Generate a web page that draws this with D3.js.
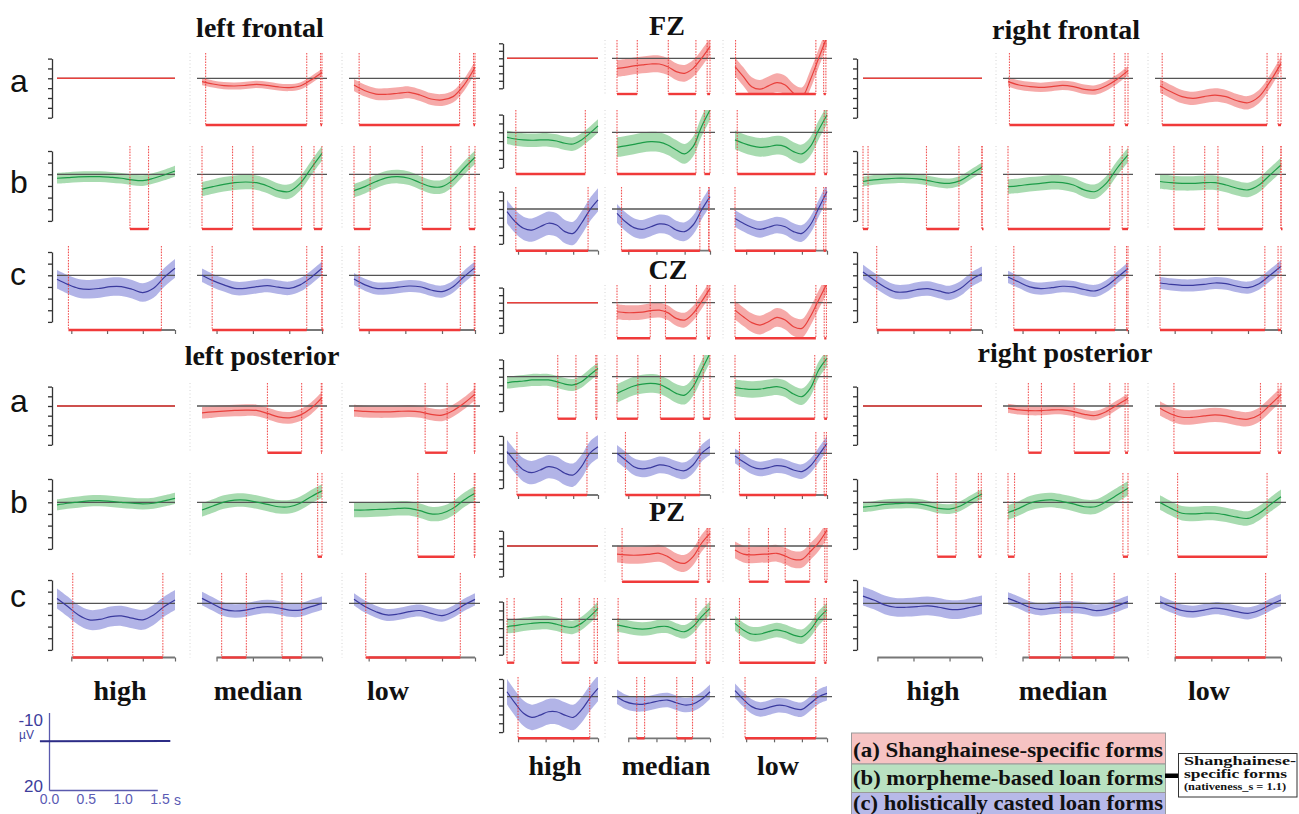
<!DOCTYPE html>
<html>
<head>
<meta charset="utf-8">
<script src="https://cdn.jsdelivr.net/npm/d3@7"></script>
<style>
  body { margin: 0; background: #fff; }
  svg { display: block; }
</style>
</head>
<body>
<svg id="chart" width="1299" height="814"></svg>
<script>
// ---------------------------------------------------------------------------
// GAM difference smooths (µV, negative up) for three form types (a, b, c)
// at three nativeness levels (high, median, low), per scalp region.
// Each region lists 9 panels: a-high, a-median, a-low, b-high, ... c-low.
// ---------------------------------------------------------------------------
const times = [-0.2, -0.05, 0.1, 0.25, 0.4, 0.55, 0.7, 0.85, 1.0, 1.15, 1.3, 1.45];
const levels = ["high", "median", "low"];
const forms = ["a", "b", "c"];
const flat = [0, 0, 0, 0, 0, 0, 0, 0, 0, 0, 0, 0];

// left frontal
const leftFrontalFit = [
  flat,
  [1.7, 2.9, 3.7, 3.9, 3.6, 3.1, 3.6, 4.4, 4.7, 3.9, 0.8, -3.0],
  [3.4, 6.3, 8.0, 8.1, 7.6, 7.1, 8.5, 10.5, 11.0, 9.3, 3.4, -5.6],
  [1.7, 1.4, 1.1, 1.0, 1.0, 1.3, 1.7, 2.4, 2.7, 1.7, 0.3, -1.4],
  [6.4, 5.3, 4.3, 3.6, 3.3, 3.6, 5.0, 7.0, 7.4, 3.9, -2.6, -9.0],
  [7.0, 5.3, 3.1, 1.4, 1.0, 1.7, 3.6, 5.3, 5.3, 2.4, -2.6, -7.3],
  [1.7, 3.9, 5.6, 6.0, 5.6, 4.9, 4.9, 6.0, 7.4, 5.6, 0.9, -3.0],
  [0.0, 2.3, 4.1, 5.6, 5.6, 4.9, 4.4, 5.1, 5.6, 4.1, 0.9, -3.0],
  [1.6, 4.1, 5.6, 5.6, 5.1, 4.6, 4.9, 6.3, 7.0, 4.9, 0.6, -3.3]
];
const leftFrontalCI = [0, 1.8, 3.0, 2.3, 3.1, 2.9, 4.0, 2.9, 2.6];
const leftFrontalSig = [
  [], [[-0.15, 1.24], [1.43, 1.45]], [[-0.13, 1.24], [1.43, 1.45]],
  [[0.82, 1.08]], [[-0.2, 0.22], [0.5, 1.17], [1.34, 1.45]], [[-0.2, 0.02], [0.73, 1.12], [1.37, 1.45]],
  [[-0.04, 1.26]], [[-0.06, 1.24], [1.45, 1.45]], [[-0.13, 1.25], [1.44, 1.45]]
];

// left posterior
const leftPosteriorFit = [
  flat,
  [3.5, 3.0, 2.6, 2.3, 2.1, 2.3, 3.8, 5.6, 6.1, 4.7, 1.2, -4.3],
  [2.4, 2.8, 3.0, 3.0, 2.8, 2.6, 3.0, 4.3, 4.7, 2.4, -1.4, -6.1],
  [1.1, 0.4, -0.1, -0.6, -0.7, -0.4, 0.0, 0.4, 0.7, 0.4, -0.6, -1.7],
  [3.3, 1.6, -0.1, -0.9, -0.9, -0.1, 0.9, 1.9, 1.9, 0.4, -2.4, -4.9],
  [3.3, 3.3, 3.1, 2.9, 2.6, 2.6, 3.6, 5.0, 4.7, 2.6, -1.0, -3.9],
  [-2.1, 1.4, 5.0, 7.1, 6.9, 5.7, 5.4, 6.4, 7.1, 5.0, 1.4, -1.4],
  [-2.1, 0.3, 2.6, 3.3, 2.9, 1.9, 1.4, 1.9, 2.9, 2.9, 1.4, 0.0],
  [-1.7, 1.4, 3.6, 5.0, 4.6, 3.6, 3.1, 4.3, 5.3, 3.6, 0.7, -1.7]
];
const leftPosteriorCI = [0, 3.0, 3.1, 2.4, 2.9, 3.1, 4.3, 2.9, 2.6];
const leftPosteriorSig = [
  [], [[0.7, 1.17], [1.44, 1.45]], [[0.77, 1.07], [1.44, 1.45]],
  [], [[1.39, 1.45]], [[0.67, 1.17], [1.44, 1.45]],
  [[0.02, 1.28]], [[0.07, 0.41], [0.9, 1.17]], [[-0.04, 1.25]]
];

// FZ
const fzFit = [
  flat,
  [6.7, 6.0, 5.1, 4.4, 3.8, 3.8, 5.6, 8.9, 10.0, 6.7, 0.0, -7.8],
  [5.6, 12.2, 18.9, 20.6, 18.4, 16.2, 17.8, 23.3, 25.6, 14.4, 0.0, -14.4],
  [2.8, 3.8, 4.3, 4.5, 4.3, 4.3, 4.9, 6.2, 6.6, 4.3, 0.6, -3.6],
  [8.5, 7.7, 6.8, 5.8, 5.3, 5.6, 7.2, 10.0, 12.2, 8.1, -3.2, -12.6],
  [4.3, 6.2, 7.7, 8.5, 8.1, 7.3, 8.1, 10.9, 12.2, 8.1, -1.3, -9.8],
  [1.5, 7.3, 11.1, 12.1, 10.2, 8.2, 9.2, 13.0, 14.0, 8.2, 0.6, -5.2],
  [2.5, 7.3, 10.7, 11.7, 10.2, 8.6, 9.2, 12.1, 13.0, 9.2, 0.6, -7.1],
  [5.4, 8.2, 10.5, 11.7, 10.5, 9.2, 10.2, 13.0, 14.0, 9.2, -0.4, -10.0]
];
const fzCI = [0, 5.6, 6.2, 3.8, 5.6, 5.3, 6.7, 5.4, 4.8];
const fzSig = [
  [], [[-0.2, 0.16], [0.71, 1.2], [1.4, 1.45]], [[-0.19, 1.25], [1.39, 1.43]],
  [[-0.04, 1.22]], [[-0.2, 1.2], [1.35, 1.45]], [[-0.16, 1.24], [1.4, 1.45]],
  [[-0.04, 1.27]], [[-0.12, 1.27], [1.43, 1.43]], [[-0.2, 1.25], [1.39, 1.43]]
];

// CZ
const czFit = [
  flat,
  [6.0, 6.6, 6.6, 6.2, 5.3, 4.9, 6.6, 10.4, 11.5, 7.1, -0.7, -9.5],
  [4.9, 9.3, 13.2, 14.8, 12.6, 9.7, 11.5, 15.9, 17.0, 9.3, -1.8, -12.8],
  [3.5, 2.9, 2.5, 1.9, 1.9, 1.9, 2.9, 4.3, 4.8, 2.9, -1.0, -4.8],
  [9.7, 7.4, 5.4, 4.3, 3.9, 4.5, 6.8, 9.7, 10.7, 5.8, -3.9, -13.6],
  [6.4, 7.0, 7.4, 7.2, 6.4, 5.8, 7.0, 10.1, 11.6, 6.8, -3.9, -10.7],
  [-1.0, 4.8, 9.6, 11.1, 9.6, 7.7, 8.6, 11.5, 12.5, 7.7, 0.0, -3.8],
  [0.0, 3.8, 7.7, 9.0, 8.2, 6.7, 7.3, 9.2, 10.0, 6.7, 0.0, -3.8],
  [1.5, 4.8, 7.7, 9.0, 8.2, 7.1, 7.7, 9.6, 10.5, 7.3, 1.0, -5.7]
];
const czCI = [0, 4.9, 6.2, 3.5, 5.4, 4.8, 6.7, 4.8, 4.2];
const czSig = [
  [], [[-0.2, 0.39], [0.66, 1.21], [1.4, 1.45]], [[-0.2, 1.25], [1.4, 1.44]],
  [[0.72, 1.05], [1.41, 1.43]], [[-0.2, 0.17], [0.57, 1.17], [1.33, 1.45]], [[-0.2, 1.23], [1.4, 1.45]],
  [[-0.02, 1.25]], [[-0.05, 1.27]], [[-0.12, 1.25], [1.4, 1.44]]
];

// PZ
const pzFit = [
  flat,
  [5.3, 5.9, 6.1, 5.9, 5.3, 4.8, 7.0, 10.3, 11.4, 7.0, -1.8, -8.3],
  [2.6, 5.3, 5.9, 5.5, 5.3, 4.8, 6.6, 8.8, 8.8, 3.7, -2.2, -10.5],
  [4.1, 3.6, 2.8, 2.3, 1.9, 1.9, 2.8, 4.1, 4.5, 2.3, -1.5, -6.2],
  [3.2, 4.1, 5.1, 5.5, 5.1, 4.1, 4.1, 6.0, 7.0, 4.1, -1.5, -6.2],
  [2.3, 6.0, 8.3, 8.3, 7.0, 6.0, 7.0, 8.9, 9.8, 6.0, -0.6, -5.3],
  [-2.8, 3.8, 9.4, 11.7, 10.4, 8.5, 8.5, 10.4, 11.7, 7.5, 0.9, -4.7],
  [0.0, 2.8, 4.1, 4.3, 3.4, 2.3, 1.9, 3.4, 4.7, 4.1, 1.5, -2.8],
  [-3.4, 1.5, 5.6, 7.2, 6.2, 4.9, 5.1, 6.6, 7.2, 3.8, 0.0, -1.9]
];
const pzCI = [0, 5.6, 5.5, 3.8, 3.8, 4.1, 7.2, 4.1, 4.1];
const pzSig = [
  [], [[-0.11, 1.25], [1.4, 1.45]], [[0.05, 0.4], [0.7, 1.14], [1.41, 1.45]],
  [[-0.2, -0.07], [0.79, 1.11], [1.38, 1.44]], [[-0.18, 1.2], [1.38, 1.45]], [[-0.12, 1.24], [1.4, 1.44]],
  [[0.0, 1.3]], [[0.15, 0.29], [0.86, 1.14]], [[-0.02, 1.25]]
];

// right frontal
const rightFrontalFit = [
  flat,
  [1.7, 3.4, 4.2, 4.6, 4.2, 3.6, 4.2, 5.6, 5.9, 3.9, 0.5, -3.9],
  [3.9, 6.8, 9.3, 10.2, 9.3, 8.5, 9.3, 11.4, 12.4, 9.3, 1.7, -7.6],
  [3.1, 2.4, 2.0, 1.7, 1.7, 2.0, 2.7, 3.6, 3.9, 2.7, -0.1, -3.0],
  [5.3, 4.9, 4.3, 3.9, 3.4, 3.6, 4.6, 6.7, 7.4, 3.9, -2.6, -8.3],
  [3.1, 3.6, 3.9, 3.9, 3.6, 3.6, 4.6, 6.0, 6.7, 4.6, 0.3, -4.0],
  [-1.4, 1.9, 5.0, 7.1, 7.1, 6.1, 5.7, 6.7, 7.6, 5.7, 1.9, -0.7],
  [0.7, 2.9, 5.0, 5.7, 5.3, 4.7, 5.0, 6.1, 6.7, 4.7, 1.0, -2.9],
  [3.3, 3.9, 4.3, 4.3, 3.9, 3.3, 3.6, 4.7, 5.3, 3.6, 0.0, -3.9]
];
const rightFrontalCI = [0, 2.4, 3.4, 2.1, 3.1, 3.1, 3.1, 2.6, 2.6];
const rightFrontalSig = [
  [], [[-0.18, 1.26], [1.41, 1.45]], [[-0.17, 1.26], [1.41, 1.45]],
  [[-0.2, -0.13], [0.68, 1.13], [1.45, 1.45]], [[-0.2, 1.2], [1.37, 1.45]], [[-0.01, 0.41], [0.59, 1.2], [1.45, 1.45]],
  [[-0.01, 1.3]], [[-0.12, 1.27], [1.43, 1.45]], [[-0.2, 1.23], [1.41, 1.45]]
];

// right posterior
const rightPosteriorFit = [
  flat,
  [1.2, 2.0, 2.4, 2.4, 2.0, 2.0, 2.9, 4.3, 4.9, 2.9, -0.5, -3.9],
  [1.2, 4.1, 5.8, 5.8, 5.1, 4.6, 5.1, 6.3, 6.8, 4.6, -0.5, -6.0],
  [2.1, 1.6, 0.9, 0.6, 0.4, 0.6, 1.4, 2.6, 2.9, 1.6, -1.0, -3.6],
  [4.4, 2.6, 0.4, -0.7, -1.0, -0.3, 0.7, 1.9, 1.9, -0.3, -3.1, -6.0],
  [0.1, 2.6, 4.7, 5.0, 4.7, 4.7, 5.4, 6.4, 6.9, 4.7, 1.1, -2.4],
  [-3.1, -1.4, 0.7, 1.7, 1.7, 1.4, 1.1, 1.7, 2.6, 2.6, 1.7, 0.7],
  [-2.1, -0.3, 1.7, 2.6, 2.1, 1.7, 1.7, 2.1, 3.1, 2.6, 1.1, -0.7],
  [-0.7, 1.4, 3.1, 3.6, 2.9, 2.1, 2.6, 3.6, 4.3, 3.1, 0.7, -1.4]
];
const rightPosteriorCI = [0, 2.4, 3.7, 2.1, 3.1, 3.1, 4.0, 2.6, 2.6];
const rightPosteriorSig = [
  [], [[0.08, 0.26], [0.71, 1.2], [1.41, 1.45]], [[-0.01, 1.17], [1.41, 1.45]],
  [[0.83, 1.09], [1.4, 1.44]], [[-0.2, -0.11], [1.38, 1.45]], [[0.04, 1.26]],
  [], [[0.09, 0.52], [0.68, 1.26]], [[0.01, 1.24]]
];

const formLabels = [
  "(a) Shanghainese-specific forms",
  "(b) morpheme-based loan forms",
  "(c) holistically casted loan forms"
];
const yTicks = [-10, -5, 0, 5, 10, 15, 20];
const xTicks = [0, 0.5, 1.0, 1.45];
const scaleTicks = [0.0, 0.5, 1.0, 1.5];

// ---------------------------------------------------------------------------
// layout
// ---------------------------------------------------------------------------
const colsLeft = [[57, 175], [202, 322], [354, 475]];
const colsCenter = [[507, 598], [617, 710], [735, 827]];
const colsRight = [[863, 982], [1008, 1128], [1160, 1281]];
// rows: [zero-line y, px per µV, top of marker lines, bottom (significance) line]
const rowsFrontal = [[78.3, 1.97, 53, 125], [174.3, 2.33, 146, 229], [275.3, 2.33, 246, 330]];
const rowsPosterior = [[406, 1.94, 383, 452.7], [502.3, 2.33, 473, 556.7], [603.3, 2.33, 573, 657.5]];
const rowsFZ = [[58.3, 1.5, 40, 94], [132.3, 1.77, 110, 174], [209, 1.74, 187, 250.7]];
const rowsCZ = [[302.7, 1.51, 285, 338.3], [376.7, 1.72, 355, 418.7], [453.3, 1.74, 432, 495]];
const rowsPZ = [[546, 1.52, 528, 581.7], [619.3, 1.77, 598, 662.7], [696.7, 1.77, 677, 738.3]];

const panelsets = [
  { fit: leftFrontalFit, ci: leftFrontalCI, sig: leftFrontalSig, cols: colsLeft, rows: rowsFrontal, axisX: 52 },
  { fit: leftPosteriorFit, ci: leftPosteriorCI, sig: leftPosteriorSig, cols: colsLeft, rows: rowsPosterior, axisX: 52 },
  { fit: fzFit, ci: fzCI, sig: fzSig, cols: colsCenter, rows: rowsFZ, axisX: 503 },
  { fit: czFit, ci: czCI, sig: czSig, cols: colsCenter, rows: rowsCZ, axisX: 503 },
  { fit: pzFit, ci: pzCI, sig: pzSig, cols: colsCenter, rows: rowsPZ, axisX: 503 },
  { fit: rightFrontalFit, ci: rightFrontalCI, sig: rightFrontalSig, cols: colsRight, rows: rowsFrontal, axisX: 857 },
  { fit: rightPosteriorFit, ci: rightPosteriorCI, sig: rightPosteriorSig, cols: colsRight, rows: rowsPosterior, axisX: 857 }
];

const colors = {
  a: { line: "#e8403c", band: "#f5a5a4" },
  b: { line: "#1c9c48", band: "#a3d9ac" },
  c: { line: "#3a3a9e", band: "#aeb0e6" }
};
const sigColor = "#f03a3a";
const serif = "'Liberation Serif', 'Times New Roman', serif";
const sans = "'Liberation Sans', Arial, sans-serif";

const svg = d3.select("#chart");
const defs = svg.append("defs");
const plot = svg.append("g").attr("class", "panels");
let clipCount = 0;

function drawPanel(fit, ci, sig, col, row, form, li, axisX) {
  const [x0, x1] = col;
  const [zero, k, top, bot] = row;
  const x = d3.scaleLinear().domain([-0.2, 1.45]).range([x0, x1]);
  const y = d3.scaleLinear().domain([-10, 20]).range([zero - 10 * k, zero + 20 * k]);
  const g = plot.append("g");
  const id = "clip" + (clipCount++);
  defs.append("clipPath").attr("id", id)
    .append("rect").attr("x", x0 - 3).attr("y", top).attr("width", x1 - x0 + 6).attr("height", bot - top);

  const pts = times.map((t, i) => ({ t, v: fit[i] }));
  const curve = d3.curveCatmullRom.alpha(0.5);
  const pal = colors[form];

  // faint remnant of the panel's own y axis
  if (li > 0) {
    g.append("line")
      .attr("x1", x0 - 12).attr("x2", x0 - 12)
      .attr("y1", top).attr("y2", bot)
      .attr("stroke", "#d4d4d4").attr("stroke-width", 1).attr("stroke-dasharray", "1 2.5");
  }

  // confidence band
  if (ci > 0) {
    g.append("g").attr("clip-path", `url(#${id})`)
      .append("path").datum(pts)
      .attr("d", d3.area().x(d => x(d.t)).y0(d => y(d.v - ci)).y1(d => y(d.v + ci)).curve(curve))
      .attr("fill", pal.band).attr("opacity", 0.95);
  }

  // zero reference
  const zx0 = li === 0 ? x0 : x0 - 5;
  const zx1 = li === 0 ? x1 : x1 + 5;
  g.append("line")
    .attr("x1", zx0).attr("x2", zx1).attr("y1", y(0)).attr("y2", y(0))
    .attr("stroke", "#555").attr("stroke-width", 1.3);

  // fitted smooth
  g.append("g").attr("clip-path", `url(#${id})`)
    .append("path").datum(pts)
    .attr("d", d3.line().x(d => x(d.t)).y(d => y(d.v)).curve(curve))
    .attr("fill", "none").attr("stroke", pal.line).attr("stroke-width", ci > 0 ? 1.2 : 1.6);

  // bottom time axis on the c rows
  if (form === "c") {
    const ax = g.append("g").attr("transform", `translate(0,${bot})`)
      .call(d3.axisBottom(x).tickValues(xTicks).tickSize(4).tickSizeOuter(0).tickFormat(""));
    ax.select(".domain").remove();
    ax.selectAll("line").attr("stroke", "#666").attr("stroke-width", 1.2);
    g.append("line").attr("x1", x(0)).attr("x2", x(1.45)).attr("y1", bot).attr("y2", bot)
      .attr("stroke", "#777").attr("stroke-width", 1.8);
  }

  // significance intervals
  sig.forEach(([s, e]) => {
    [s, e].forEach(t => {
      g.append("line")
        .attr("x1", x(t)).attr("x2", x(t)).attr("y1", top).attr("y2", bot)
        .attr("stroke", sigColor).attr("stroke-width", 1.1)
        .attr("stroke-dasharray", "1.6 1.2").attr("opacity", 0.85);
    });
    g.append("line")
      .attr("x1", x(s)).attr("x2", x(e) + (e === s ? 1.5 : 0)).attr("y1", bot).attr("y2", bot)
      .attr("stroke", sigColor).attr("stroke-width", 2.4);
  });

  // µV axis on the first column
  if (li === 0) {
    const ay = g.append("g").attr("transform", `translate(${axisX},0)`)
      .call(d3.axisLeft(y).tickValues(yTicks).tickSize(4).tickSizeOuter(0).tickFormat(""));
    ay.select(".domain").attr("stroke", "#333").attr("stroke-width", 1.3);
    ay.selectAll(".tick line").attr("stroke", "#333").attr("stroke-width", 1.3);
  }
}

panelsets.forEach(ps => {
  forms.forEach((form, fi) => {
    levels.forEach((lev, li) => {
      const idx = fi * 3 + li;
      drawPanel(ps.fit[idx], ps.ci[idx], ps.sig[idx], ps.cols[li], ps.rows[fi], form, li, ps.axisX);
    });
  });
});

// ---------------------------------------------------------------------------
// titles and labels
// ---------------------------------------------------------------------------
const titles = [
  { text: "left frontal", x: 260, y: 37 },
  { text: "left posterior", x: 262, y: 365 },
  { text: "FZ", x: 667, y: 35 },
  { text: "CZ", x: 668, y: 279 },
  { text: "PZ", x: 667, y: 521 },
  { text: "right frontal", x: 1066, y: 39 },
  { text: "right posterior", x: 1065, y: 362 }
];
svg.append("g").selectAll("text").data(titles).join("text")
  .attr("x", d => d.x).attr("y", d => d.y).attr("text-anchor", "middle")
  .attr("font-family", serif).attr("font-weight", "bold").attr("font-size", 28)
  .attr("fill", "#111").text(d => d.text);

const colLabelSets = [
  { xs: [120, 258, 388], y: 700 },
  { xs: [555, 666, 778], y: 775 },
  { xs: [933, 1063, 1209], y: 700 }
];
colLabelSets.forEach(set => {
  svg.append("g").selectAll("text").data(levels).join("text")
    .attr("x", (d, i) => set.xs[i]).attr("y", set.y).attr("text-anchor", "middle")
    .attr("font-family", serif).attr("font-weight", "bold").attr("font-size", 28)
    .attr("fill", "#111").text(d => d);
});

const rowLabelYs = [[92, 193, 285], [412, 513, 607]];
rowLabelYs.forEach(ys => {
  svg.append("g").selectAll("text").data(forms).join("text")
    .attr("x", 10).attr("y", (d, i) => ys[i])
    .attr("font-family", sans).attr("font-size", 32).attr("fill", "#111").text(d => d);
});

// ---------------------------------------------------------------------------
// scale key (bottom left)
// ---------------------------------------------------------------------------
const keyCol = "#3d3d9c";
const kx = d3.scaleLinear().domain([0, 1.5]).range([49.5, 160]);
const ky = d3.scaleLinear().domain([-10, 20]).range([718, 788]);
const key = svg.append("g");
key.append("line").attr("x1", 49.5).attr("x2", 49.5).attr("y1", 713).attr("y2", ky(20) + 2.5)
  .attr("stroke", "#5a5aae").attr("stroke-width", 1.3);
key.append("line").attr("x1", 49.5).attr("x2", kx(1.47)).attr("y1", ky(20) + 2.5).attr("y2", ky(20) + 2.5)
  .attr("stroke", "#5a5aae").attr("stroke-width", 1.3);
key.append("line").attr("x1", kx(-0.13)).attr("x2", kx(1.64)).attr("y1", ky(0)).attr("y2", ky(0) - 0.4)
  .attr("stroke", "#2c2c86").attr("stroke-width", 2);
key.append("text").attr("x", 43).attr("y", 726).attr("text-anchor", "end")
  .attr("font-family", sans).attr("font-size", 17).attr("fill", keyCol).text("-10");
key.append("text").attr("x", 19).attr("y", 739)
  .attr("font-family", sans).attr("font-size", 12).attr("fill", keyCol).text("µV");
key.append("text").attr("x", 43).attr("y", 792).attr("text-anchor", "end")
  .attr("font-family", sans).attr("font-size", 17).attr("fill", keyCol).text("20");
key.selectAll("text.tk").data(scaleTicks).join("text").attr("class", "tk")
  .attr("x", d => kx(d)).attr("y", 804).attr("text-anchor", "middle")
  .attr("font-family", sans).attr("font-size", 14).attr("fill", "#5a5ab4")
  .text(d => d.toFixed(1));
key.append("text").attr("x", 174).attr("y", 805)
  .attr("font-family", sans).attr("font-size", 14).attr("fill", "#5a5ab4").text("s");

// ---------------------------------------------------------------------------
// form legend (bottom right)
// ---------------------------------------------------------------------------
const legendFills = ["#f6c3c3", "#b9e1c1", "#b7b9e8"];
const legendBoxes = [[733, 764], [764, 792.5], [792.5, 815]];
const legendBase = [757, 785, 809.5];
const leg = svg.append("g");
formLabels.forEach((lab, i) => {
  leg.append("rect").attr("x", 851.5).attr("y", legendBoxes[i][0])
    .attr("width", 314).attr("height", legendBoxes[i][1] - legendBoxes[i][0])
    .attr("fill", legendFills[i]).attr("stroke", "#9a9a9a").attr("stroke-width", 1);
  leg.append("text").attr("x", 853).attr("y", legendBase[i])
    .attr("font-family", serif).attr("font-weight", "bold").attr("font-size", 22)
    .attr("textLength", 310).attr("lengthAdjust", "spacingAndGlyphs")
    .attr("fill", "#111").text(lab);
});
leg.append("rect").attr("x", 1165).attr("y", 773.5).attr("width", 14).attr("height", 4.5).attr("fill", "#000");
leg.append("rect").attr("x", 1178.5).attr("y", 753.5).attr("width", 118.5).attr("height", 43.5)
  .attr("fill", "#fff").attr("stroke", "#333").attr("stroke-width", 1);
const boxLines = [
  { text: "Shanghainese-", y: 764.5, size: 11.5, len: 112 },
  { text: "specific forms", y: 777.5, size: 11.5, len: 103 },
  { text: "(nativeness_s = 1.1)", y: 790, size: 9.5, len: 102 }
];
leg.selectAll("text.box").data(boxLines).join("text").attr("class", "box")
  .attr("x", 1184).attr("y", d => d.y)
  .attr("font-family", serif).attr("font-weight", "bold").attr("font-size", d => d.size)
  .attr("textLength", d => d.len).attr("lengthAdjust", "spacingAndGlyphs")
  .attr("fill", "#111").text(d => d.text);
</script>
</body>
</html>
